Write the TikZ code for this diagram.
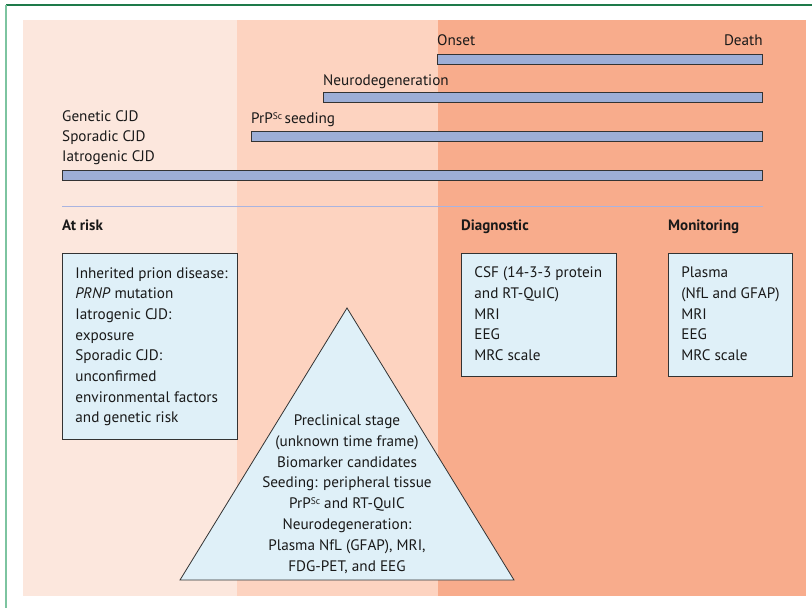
\documentclass[tikz,border=0pt]{standalone}
\usepackage{fontspec}
\setmainfont{PT Sans}
\usepackage{xcolor}
\usepackage{tikz}
\usetikzlibrary{positioning, calc}

\definecolor{riskbg}{HTML}{FCE7DD}
\definecolor{seedbg}{HTML}{FDD3C0}
\definecolor{clinbg}{HTML}{F8AC8C}
\definecolor{barblue}{HTML}{9DAED6}
\definecolor{boxblue}{HTML}{DFF0F8}
\definecolor{rulegreen}{HTML}{1E7A4A}
\definecolor{sidegreen}{HTML}{7DC4A0}
\definecolor{dividerblue}{HTML}{A9B4E0}

\newcommand{\scsup}{\raisebox{0.5ex}{\fontsize{9.5}{9.5}\selectfont Sc}}
\newcommand{\linestack}[2]{\makebox[#1][l]{\begin{tabular}{@{}l@{}}#2\end{tabular}}}

\tikzstyle{bar} = [rectangle, draw=black!80, fill=barblue, line width=0.9pt, minimum height=10pt, inner sep=0pt, anchor=west]
\tikzstyle{barlabel} = [inner sep=0pt, font=\fontsize{15.2}{17}\selectfont, text=black!90]
\tikzstyle{heading} = [inner sep=0pt, font=\bfseries\fontsize{15}{17}\selectfont, text=black!90]
\tikzstyle{infobox} = [rectangle, draw=black!80, fill=boxblue, line width=0.8pt, anchor=north west, inner xsep=13pt, inner ysep=0pt, font=\fontsize{15.2}{20.7}\selectfont, text=black!90]
\tikzstyle{pyramid} = [draw=black!80, fill=boxblue, line width=0.8pt]

\begin{document}
\begin{tikzpicture}[x=1pt, y=-1pt]
\useasboundingbox (0,0) rectangle (812,608);

    % Background stages
    \fill[riskbg] (23,20) rectangle (237,596);
    \fill[seedbg] (237,20) rectangle (438,596);
    \fill[clinbg] (438,20) rectangle (806,596);
    \draw[rulegreen, line width=1.2pt] (6,5) -- (812,5);
    \draw[sidegreen, line width=2pt] (6,5) -- (6,608);

    % Time bars
    \node (onsetbar) [bar, minimum width=325pt] at (437,59) {};
    \node (neurobar) [bar, minimum width=439pt] at (323,97.5) {};
    \node (seedbar) [bar, minimum width=511pt] at (251,136.5) {};
    \node (iatrobar) [bar, minimum width=700pt] at (62,175) {};

    % Bar labels
    \node (onset) [barlabel, above right=8pt and 0pt of onsetbar.north west, anchor=base west] {Onset};
    \node (death) [barlabel, above left=8pt and 0pt of onsetbar.north east, anchor=base east] {Death};
    \node (neuro) [barlabel, above right=7pt and 0pt of neurobar.north west, anchor=base west] {Neurodegeneration};
    \node (seeding) [barlabel, above right=8pt and 0pt of seedbar.north west, anchor=base west] {PrP\scsup\,seeding};
    \node (iatro) [barlabel, above right=8pt and 0pt of iatrobar.north west, anchor=base west] {Iatrogenic CJD};
    \node (sporadic) [barlabel, above right=20pt and 0pt of iatro.base west, anchor=base west] {Sporadic CJD};
    \node (genetic) [barlabel, above right=20pt and 0pt of sporadic.base west, anchor=base west] {Genetic CJD};

    % Divider
    \draw[dividerblue, line width=0.8pt] ($(iatrobar.south west)+(0,26)$) -- ($(iatrobar.south east)+(0,26)$);

    % Boxes
    \node (riskbox) [infobox, minimum height=186pt] at (62,253) {\linestack{149pt}{Inherited prion disease:\\\textit{PRNP} mutation\\Iatrogenic CJD:\\exposure\\Sporadic CJD:\\unconfirmed\\environmental factors\\and genetic risk}};
    \node (diagbox) [infobox, minimum height=123pt] at (461,253) {\linestack{129pt}{CSF (14-3-3 protein\\and RT-QuIC)\\MRI\\EEG\\MRC scale}};
    \node (monitorbox) [infobox, minimum height=123pt] at (668,253) {\linestack{98pt}{Plasma\\(NfL and GFAP)\\MRI\\EEG\\MRC scale}};

    % Headings
    \node (atrisk) [heading, above right=23pt and 0pt of riskbox.north west, anchor=base west] {At risk};
    \node (diagnostic) [heading, above right=23pt and 0pt of diagbox.north west, anchor=base west] {Diagnostic};
    \node (monitoring) [heading, above right=23pt and 0pt of monitorbox.north west, anchor=base west] {Monitoring};

    % Preclinical pyramid
    \coordinate (apex) at (347,308);
    \coordinate (baseleft) at (180,580);
    \coordinate (baseright) at (514,580);
    \draw[pyramid] (apex) -- (baseright) -- (baseleft) -- cycle;
    \node (preclinical) [align=center, font=\fontsize{15.2}{20.8}\selectfont, text=black!90] at (347,494) {Preclinical stage\\(unknown time frame)\\Biomarker candidates\\Seeding: peripheral tissue\\PrP\scsup\ and RT-QuIC\\Neurodegeneration:\\Plasma NfL (GFAP), MRI,\\FDG-PET, and EEG};
\end{tikzpicture}
\end{document}
